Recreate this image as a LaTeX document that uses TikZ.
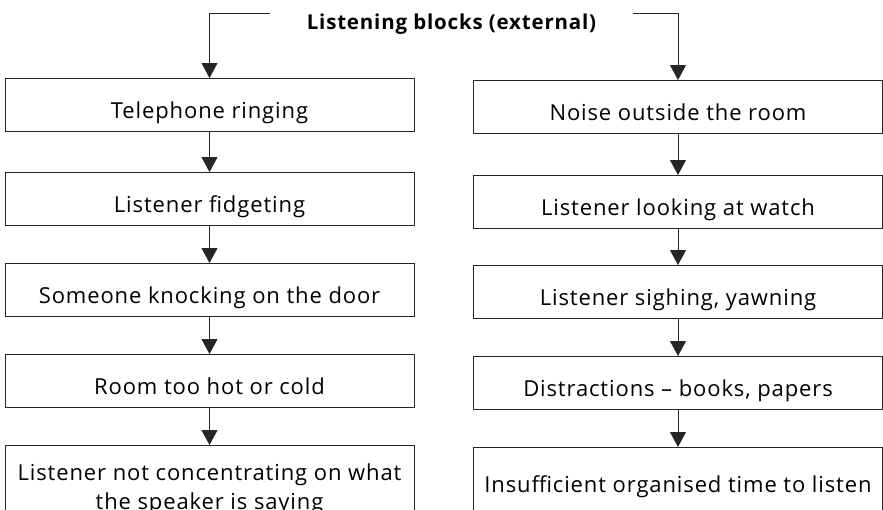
\documentclass[tikz,border=0pt]{standalone}
\usepackage{fontspec}
\setmainfont{Open Sans}[LetterSpace=4]
\usetikzlibrary{arrows.meta}
\begin{document}
\begin{tikzpicture}[x=1pt,y=-1pt,
  blockbox/.style={draw=black!85, line width=0.9pt, minimum width=409pt,
    inner sep=0pt, align=center, anchor=north,
    text height=40pt, text depth=13pt,
    font=\fontsize{22}{29}\selectfont},
  flow/.style={draw=black!85, line width=0.9pt,
    -{Triangle[width=16pt,length=15pt]}},
]
\useasboundingbox (0,0) rectangle (883,509);
\clip (0,0) rectangle (883,509);

% heading
\node[anchor=base, inner sep=0pt,
  font=\bfseries\fontsize{20.5}{22}\selectfont] (title) at (451.5,29)
  {Listening blocks (external)};
\coordinate (tl) at (270,13.5);
\coordinate (tr) at (633,13.5);

% left column
\node[blockbox] (l1) at (209.5,78)  {Telephone ringing};
\node[blockbox] (l2) at (209.5,172) {Listener fidgeting};
\node[blockbox] (l3) at (209.5,263) {Someone knocking on the door};
\node[blockbox] (l4) at (209.5,354) {Room too hot or cold};
\node[blockbox, text height=, text depth=, minimum height=88pt]
  (l5) at (209.5,445) {Listener not concentrating on what\\the speaker is saying};

% right column
\node[blockbox] (r1) at (678,80)  {Noise outside the room};
\node[blockbox] (r2) at (678,175) {Listener looking at watch};
\node[blockbox] (r3) at (678,265) {Listener sighing, yawning};
\node[blockbox] (r4) at (678,356) {Distractions -- books, papers};
\node[blockbox, text height=45pt, text depth=35pt]
  (r5) at (678,447) {Insufficient organised time to listen};

% connectors
\draw[flow] (tl) -| (l1.north);
\draw[flow] (tr) -| (r1.north);
\draw[flow] (l1) -- (l2);
\draw[flow] (l2) -- (l3);
\draw[flow] (l3) -- (l4);
\draw[flow] (l4) -- (l5);
\draw[flow] (r1) -- (r2);
\draw[flow] (r2) -- (r3);
\draw[flow] (r3) -- (r4);
\draw[flow] (r4) -- (r5);
\end{tikzpicture}
\end{document}
